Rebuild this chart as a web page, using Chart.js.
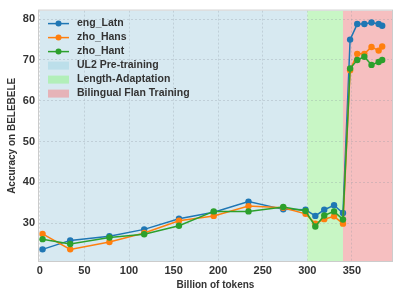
<!DOCTYPE html>
<html>
<head>
<meta charset="utf-8">
<script src="https://cdn.jsdelivr.net/npm/chart.js@4.4.0/dist/chart.umd.min.js"></script>
<style>
  html, body { margin: 0; padding: 0; background: #fff; }
  #wrap { width: 399px; height: 299px; }
</style>
</head>
<body>
<div id="wrap"><canvas id="mycanvas" width="399" height="299"></canvas></div>
<script>
// billions of tokens seen at each checkpoint
var tokens = [3, 34, 78, 117, 156, 195, 234, 273, 298, 309, 319, 330, 340, 348, 356, 364, 372, 380, 384];
var engLatn = [23.6, 25.8, 26.8, 28.5, 31.1, 32.7, 35.3, 33.4, 33.3, 31.8, 33.3, 34.4, 32.5, 75.0, 78.8, 78.8, 79.2, 78.8, 78.4];
var zhoHans = [27.4, 23.6, 25.4, 27.6, 30.6, 31.8, 34.2, 33.8, 32.3, 29.9, 31.0, 31.7, 29.9, 67.5, 71.5, 71.5, 73.2, 72.3, 73.3];
var zhoHant = [26.1, 24.9, 26.5, 27.3, 29.4, 32.9, 32.9, 34.0, 33.0, 29.2, 31.9, 32.9, 30.9, 67.9, 70.0, 70.8, 68.8, 69.5, 70.0];

// training phases [start, end]
var phaseNames = ["UL2 Pre-training", "Length-Adaptation", "Bilingual Flan Training"];
var phaseStart = [0, 300, 340];
var phaseEnd = [300, 340, 400];

var xTicks = [0, 50, 100, 150, 200, 250, 300, 350];
var yTicks = [30, 40, 50, 60, 70, 80];

var seriesNames = ["eng_Latn", "zho_Hans", "zho_Hant"];
var seriesColors = ["#1f77b4", "#ff7f0e", "#2ca02c"];
var phaseColors = ["#d7e9f1", "#c8f6c5", "#f6bfc0"];
var phaseLegend = ["#bcdfea", "#b2efb9", "#e6b3b8"];

function pts(ys) {
  var out = [];
  for (var i in ys) out.push({x: tokens[i], y: ys[i]});
  return out;
}

var FONT = "'Liberation Sans', Arial, sans-serif";

var phasePlugin = {
  id: 'phases',
  beforeDraw: function(chart) {
    var ctx = chart.ctx, a = chart.chartArea, xs = chart.scales.x;
    ctx.save();
    ctx.beginPath();
    ctx.rect(a.left, a.top, a.right - a.left, a.bottom - a.top);
    ctx.clip();
    for (var i = 0; i < phaseStart.length; i++) {
      var x0 = xs.getPixelForValue(phaseStart[i]);
      var x1 = xs.getPixelForValue(phaseEnd[i]);
      ctx.fillStyle = phaseColors[i];
      ctx.fillRect(x0, a.top, x1 - x0, a.bottom - a.top);
    }
    ctx.restore();
  },
  afterDraw: function(chart) {
    var ctx = chart.ctx, a = chart.chartArea;
    ctx.save();
    ctx.strokeStyle = "#cccccc";
    ctx.lineWidth = 1;
    ctx.strokeRect(a.left - 0.5, a.top - 0.5, a.right - a.left + 1, a.bottom - a.top + 1);

    // legend inside the plot
    var lx = a.left + 9, ty = a.top + 13, rowH = 14;
    ctx.font = "bold 10.5px " + FONT;
    ctx.textBaseline = "middle";
    for (var i = 0; i < seriesNames.length; i++) {
      var y = ty + i * rowH;
      ctx.strokeStyle = seriesColors[i];
      ctx.lineWidth = 1.5;
      ctx.beginPath();
      ctx.moveTo(lx, y); ctx.lineTo(lx + 21, y);
      ctx.stroke();
      ctx.fillStyle = seriesColors[i];
      ctx.beginPath();
      ctx.arc(lx + 10.5, y, 3, 0, Math.PI * 2);
      ctx.fill();
      ctx.fillStyle = "#333333";
      ctx.fillText(seriesNames[i], lx + 29, y);
    }
    for (var j = 0; j < phaseNames.length; j++) {
      var y2 = ty + (j + 3) * rowH;
      ctx.fillStyle = phaseLegend[j];
      ctx.fillRect(lx, y2 - 4, 21, 8);
      ctx.fillStyle = "#333333";
      ctx.fillText(phaseNames[j], lx + 29, y2);
    }
    ctx.restore();
  }
};

function ds(label, data, color, order) {
  return {
    label: label,
    data: pts(data),
    borderColor: color,
    backgroundColor: color,
    pointBackgroundColor: color,
    pointBorderColor: color,
    pointRadius: 3.2,
    pointBorderWidth: 0,
    borderWidth: 1.5,
    lineTension: 0,
    fill: false,
    order: order
  };
}

var ctx = document.getElementById("mycanvas");
var LineGraph = new Chart(ctx, {
  type: 'line',
  data: {
    datasets: [
      ds(seriesNames[0], engLatn, seriesColors[0], 3),
      ds(seriesNames[1], zhoHans, seriesColors[1], 2),
      ds(seriesNames[2], zhoHant, seriesColors[2], 1)
    ]
  },
  options: {
    responsive: false,
    animation: false,
    layout: { padding: { top: 7, right: 7, left: 6, bottom: 8 } },
    plugins: { legend: { display: false }, tooltip: { enabled: false } },
    scales: {
      x: {
        type: 'linear',
        min: -1,
        max: 395,
        afterFit: function(s) { s.height = 30; },
        afterBuildTicks: function(s) { s.ticks = xTicks.map(function(v) { return {value: v}; }); },
        ticks: { font: { family: FONT, size: 11, weight: 'bold' }, color: '#333333', padding: 3, maxRotation: 0 },
        grid: { color: 'rgba(140,150,160,0.3)', lineWidth: 1, drawTicks: false },
        border: { display: false, dash: [2, 2] },
        title: { display: true, text: 'Billion of tokens', font: { family: FONT, size: 10, weight: 'bold' }, color: '#333333', padding: { top: 0, bottom: 0 } }
      },
      y: {
        min: 20.75,
        max: 82.1,
        afterFit: function(s) { s.width = 33; },
        afterBuildTicks: function(s) { s.ticks = yTicks.map(function(v) { return {value: v}; }); },
        ticks: { font: { family: FONT, size: 11, weight: 'bold' }, color: '#333333', padding: 4 },
        grid: { color: 'rgba(140,150,160,0.3)', lineWidth: 1, drawTicks: false },
        border: { display: false, dash: [2, 2] },
        title: { display: true, text: 'Accuracy on BELEBELE', font: { family: FONT, size: 10, weight: 'bold' }, color: '#333333', padding: { top: 0, bottom: 0 } }
      }
    }
  },
  plugins: [phasePlugin]
});
</script>
</body>
</html>
